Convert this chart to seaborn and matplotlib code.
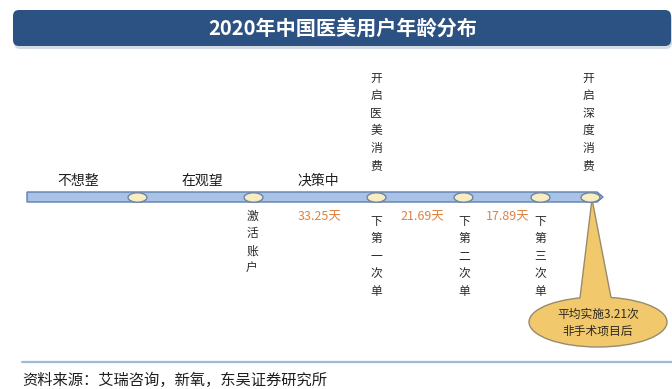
import matplotlib
matplotlib.use("Agg")
import matplotlib.pyplot as plt
from matplotlib.patches import FancyBboxPatch, Ellipse, Polygon
from matplotlib.path import Path
import numpy as np
import pandas as pd
import seaborn as sns

# ---- content ----
title = "2020年中国医美用户年龄分布"
source = "资料来源：艾瑞咨询，新氧，东吴证券研究所"

stage_names = ["不想整", "在观望", "决策中"]
stage_pos = [78, 202, 318]

milestone_pos = [137, 253, 376, 463, 540, 590]

above_labels = ["开启医美消费", "开启深度消费"]
above_pos = [376, 588]

below_labels = ["激活账户", "下第一次单", "下第二次单", "下第三次单"]
below_pos = [252, 376, 464, 540]

interval_days = [33.25, 21.69, 17.89]
interval_pos = [320, 422, 508]

avg_sessions = 3.21

# ---- style ----
sns.set_theme(style="white")
plt.rcParams["font.family"] = ["Noto Sans CJK SC", "DejaVu Sans"]

W, H = 672, 389
fig = plt.figure(figsize=(W / 100, H / 100), dpi=100)
ax = fig.add_axes([0, 0, 1, 1])
ax.set_xlim(0, W)
ax.set_ylim(H, 0)
ax.axis("off")

# title banner with soft shadow
ax.add_patch(FancyBboxPatch((14, 13), 658, 36, boxstyle="round,pad=0,rounding_size=6",
                            facecolor="#b9c3cf", edgecolor="none", alpha=0.6, zorder=1))
ax.add_patch(FancyBboxPatch((13, 10), 658, 36, boxstyle="round,pad=0,rounding_size=6",
                            facecolor="#2c5284", edgecolor="none", zorder=2))
ax.text(343, 29, title, color="white", fontsize=14.5, fontweight="bold",
        ha="center", va="center", zorder=3)

# timeline bar with arrow tip
bar_y, bar_h = 197, 10
x0, x1 = 27, 597
bar = Polygon([(x0, bar_y - bar_h / 2), (x1, bar_y - bar_h / 2), (x1 + 6, bar_y),
               (x1, bar_y + bar_h / 2), (x0, bar_y + bar_h / 2)], closed=True,
              facecolor="#a9c3e6", edgecolor="#5f7fae", lw=1.0, zorder=4)
ax.add_patch(bar)

# callout pointing at the final milestone
cx, cy, cw, ch = 598, 322, 138, 50
tip = (milestone_pos[-1] + 2, bar_y + 2)
lx, rx = 580, 611
ly = cy - ch / 2 * np.sqrt(1 - ((lx - cx) / (cw / 2)) ** 2)
ry = cy - ch / 2 * np.sqrt(1 - ((rx - cx) / (cw / 2)) ** 2)
callout_fill = "#f1c96c"
callout_edge = "#9a8a6c"
ax.add_patch(Ellipse((cx, cy), cw, ch, facecolor=callout_fill, edgecolor=callout_edge,
                     lw=1.0, zorder=3))
ax.add_patch(Polygon([tip, (lx, ly), (lx, ly + 10), (rx, ry + 10), (rx, ry)], closed=True,
                     facecolor=callout_fill, edgecolor="none", zorder=3.5))
ax.plot([tip[0], lx], [tip[1], ly], color=callout_edge, lw=1.0, zorder=3.6)
ax.plot([tip[0], rx], [tip[1], ry], color=callout_edge, lw=1.0, zorder=3.6)
ax.text(cx, 314, f"平均实施{avg_sessions}次", fontsize=8.5, color="#2e281e",
        ha="center", va="center", zorder=5)
ax.text(cx, 331, "非手术项目后", fontsize=8.5, color="#2e281e",
        ha="center", va="center", zorder=5)

# milestone nodes as small ellipses
t = np.linspace(0, 2 * np.pi, 60)
ellipse_marker = Path(np.column_stack([np.cos(t), 0.5 * np.sin(t)]))
nodes = pd.DataFrame({"pos": milestone_pos, "y": [bar_y] * len(milestone_pos)})
sns.scatterplot(data=nodes, x="pos", y="y", marker=ellipse_marker, s=185,
                color="#f7ecc2", edgecolor="#6f84a3", linewidth=1.0, ax=ax,
                zorder=6, legend=False)
ax.set_xlim(0, W)
ax.set_ylim(H, 0)
ax.axis("off")

# stage names above the bar
for name, x in zip(stage_names, stage_pos):
    ax.text(x, 181, name, fontsize=10, color="#1e1e1e", ha="center", va="center", zorder=5)


def vertical_text(label, x, y_start, step=17.5, size=8.5):
    for i, chr_ in enumerate(label):
        ax.text(x, y_start + i * step, chr_, fontsize=size, color="#2a2a2a",
                ha="center", va="center", zorder=5)


for label, x in zip(above_labels, above_pos):
    vertical_text(label, x, 78)

for label, x in zip(below_labels, below_pos):
    start = 216 if label == below_labels[0] else 221
    vertical_text(label, x, start)

# interval durations between orders
for days, x in zip(interval_days, interval_pos):
    ax.text(x, 217, f"{days:.2f}天", fontsize=9, color="#e0813f",
            ha="center", va="center", zorder=5)

# source footer
ax.plot([22, W], [362, 362], color="#9dbbd4", lw=1.6, zorder=2)
ax.text(22, 380, source, fontsize=11, color="#1e1e1e", ha="left", va="center")

fig.savefig("out.png", dpi=100, facecolor="white")
